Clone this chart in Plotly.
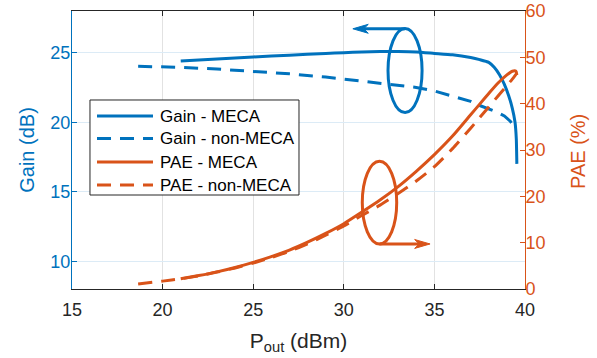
import plotly.graph_objects as go

# ---------------- data ----------------
pout_gain_meca = [21.0, 23, 25, 27, 29, 30, 31, 32, 33, 34, 35, 36, 37, 37.5, 38.0, 38.3, 38.6, 38.85, 39.1, 39.3, 39.45, 39.52, 39.55]
gain_meca = [24.4, 24.55, 24.69, 24.82, 24.94, 25.0, 25.05, 25.08, 25.08, 25.05, 24.95, 24.85, 24.65, 24.5, 24.3, 23.95, 23.4, 22.75, 21.9, 21.0, 20.0, 18.8, 17.0]

pout_gain_non = [18.65, 20, 21, 23, 25, 27, 29, 30, 31, 32, 33, 34, 35, 36, 37, 37.5, 38, 38.5, 38.86, 39.2, 39.45]
gain_non = [24.02, 24.0, 23.95, 23.82, 23.66, 23.48, 23.25, 23.1, 22.97, 22.83, 22.7, 22.5, 22.25, 21.85, 21.5, 21.2, 20.95, 20.7, 20.45, 20.05, 19.6]

pout_pae_meca = [21, 22, 23, 24, 25, 26, 27, 28, 29, 30, 31, 32, 33, 34, 35, 36, 37, 37.5, 38, 38.5, 39, 39.3, 39.5, 39.55]
pae_meca = [2.2, 2.9, 3.7, 4.65, 5.75, 7.0, 8.4, 10.1, 12.0, 14.1, 16.6, 19.2, 22.1, 25.4, 29.0, 33.0, 37.6, 39.9, 42.2, 44.4, 46.2, 47.0, 47.0, 46.2]

pout_pae_non = [18.65, 20, 21, 22, 23, 24, 25, 26, 27, 28, 29, 30, 31, 32, 33, 34, 35, 36, 37, 37.5, 38, 38.5, 39, 39.3, 39.55]
pae_non = [1.1, 1.7, 2.2, 2.85, 3.65, 4.55, 5.6, 6.8, 8.15, 9.75, 11.6, 13.6, 15.9, 18.1, 20.6, 23.3, 26.4, 30.3, 34.7, 37.0, 39.3, 41.6, 43.9, 45.3, 46.6]

x_ticks = [15, 20, 25, 30, 35, 40]
gain_ticks = [10, 15, 20, 25]
pae_ticks = [0, 10, 20, 30, 40, 50, 60]

names = ["Gain - MECA", "Gain - non-MECA", "PAE - MECA", "PAE - non-MECA"]

BLUE = "#0072BD"
ORANGE = "#D95319"
DARK = "#262626"
FONT = "Liberation Sans, Arial, sans-serif"
DASH = "14px,9px"

colors = [BLUE, BLUE, ORANGE, ORANGE]
dashes = ["solid", DASH, "solid", DASH]

fig = go.Figure()
fig.add_trace(go.Scatter(x=pout_gain_meca, y=gain_meca, mode="lines", name=names[0],
                         line=dict(color=BLUE, width=3, shape="spline", smoothing=0.5), yaxis="y"))
fig.add_trace(go.Scatter(x=pout_gain_non, y=gain_non, mode="lines", name=names[1],
                         line=dict(color=BLUE, width=3, dash=DASH), yaxis="y"))
fig.add_trace(go.Scatter(x=pout_pae_meca, y=pae_meca, mode="lines", name=names[2],
                         line=dict(color=ORANGE, width=3, shape="spline", smoothing=0.6), yaxis="y2"))
fig.add_trace(go.Scatter(x=pout_pae_non, y=pae_non, mode="lines", name=names[3],
                         line=dict(color=ORANGE, width=3, dash=DASH, shape="spline", smoothing=0.6), yaxis="y2"))

# ---- ellipses grouping the curves (left-axis data coordinates) ----
fig.add_shape(type="circle", xref="x", yref="y", x0=32.44, x1=34.32, y0=20.69, y1=26.74,
              line=dict(color=BLUE, width=3))
fig.add_shape(type="circle", xref="x", yref="y", x0=31.02, x1=32.92, y0=11.24, y1=17.19,
              line=dict(color=ORANGE, width=3))


def arrow(x_start, x_tip, y, color):
    direction = 1 if x_tip > x_start else -1
    head = 0.85 * direction
    notch = 0.6 * direction
    half = 0.32
    fig.add_shape(type="line", xref="x", yref="y", x0=x_start, x1=x_tip - notch, y0=y, y1=y,
                  line=dict(color=color, width=3))
    path = (f"M {x_tip},{y} L {x_tip - head},{y + half} L {x_tip - notch},{y} "
            f"L {x_tip - head},{y - half} Z")
    fig.add_shape(type="path", xref="x", yref="y", path=path,
                  fillcolor=color, line=dict(color=color, width=1))


arrow(33.38, 30.5, 26.72, BLUE)
arrow(31.97, 34.76, 11.24, ORANGE)

# ---- legend (MATLAB style box) ----
leg_x0, leg_x1, leg_y0, leg_y1 = 0.0397, 0.5011, 0.3381, 0.6799
fig.add_shape(type="rect", xref="paper", yref="paper", x0=leg_x0, x1=leg_x1, y0=leg_y0, y1=leg_y1,
              fillcolor="white", line=dict(color=DARK, width=1), layer="above")
row_y = [0.6223, 0.5414, 0.4568, 0.3741]
for name, c, d, ry in zip(names, colors, dashes, row_y):
    fig.add_shape(type="line", xref="paper", yref="paper", x0=0.0552, x1=0.1788, y0=ry, y1=ry,
                  line=dict(color=c, width=3, dash=d), layer="above")
    fig.add_annotation(x=0.1898, y=ry, xref="paper", yref="paper", xanchor="left", yanchor="middle",
                       text=name, showarrow=False, font=dict(size=17, color="black", family=FONT))

# right-axis title (placed exactly where the reference has it)
fig.add_annotation(x=1.117, y=0.493, xref="paper", yref="paper", xanchor="center", yanchor="middle",
                   text="PAE (%)", textangle=-90, showarrow=False,
                   font=dict(size=20, color=ORANGE, family=FONT))

fig.update_layout(
    width=597, height=358,
    margin=dict(l=72, r=72, t=11, b=69),
    paper_bgcolor="white", plot_bgcolor="white",
    font=dict(family=FONT, size=18, color=DARK),
    showlegend=False,
    xaxis=dict(range=[15, 40], tickvals=x_ticks, ticks="inside", ticklen=5, tickcolor=DARK,
               showline=True, linecolor=DARK, linewidth=1, mirror="ticks", automargin=False,
               showgrid=True, gridcolor="#e2e2e2", zeroline=False, ticklabelstandoff=4,
               tickfont=dict(size=18, color=DARK),
               title=dict(text="P<sub>out</sub> (dBm)", font=dict(size=21, color=DARK), standoff=14)),
    yaxis=dict(range=[8, 28], tickvals=gain_ticks, ticks="inside", ticklen=5, tickcolor=BLUE,
               showline=True, linecolor=BLUE, linewidth=1, automargin=False,
               showgrid=True, gridcolor="#dcebf6", zeroline=False, ticklabelstandoff=-3,
               tickfont=dict(size=18, color=BLUE),
               title=dict(text="Gain (dB)", font=dict(size=20, color=BLUE), standoff=10)),
    yaxis2=dict(range=[0, 60], tickvals=pae_ticks, ticks="inside", ticklen=5, tickcolor=ORANGE,
                overlaying="y", side="right", automargin=False,
                showline=True, linecolor=ORANGE, linewidth=1, ticklabelstandoff=-4,
                showgrid=False, zeroline=False,
                tickfont=dict(size=18, color=ORANGE)),
)

fig.write_html("out.html", config={"displayModeBar": False},
               post_script="document.body.style.margin='0px';")
